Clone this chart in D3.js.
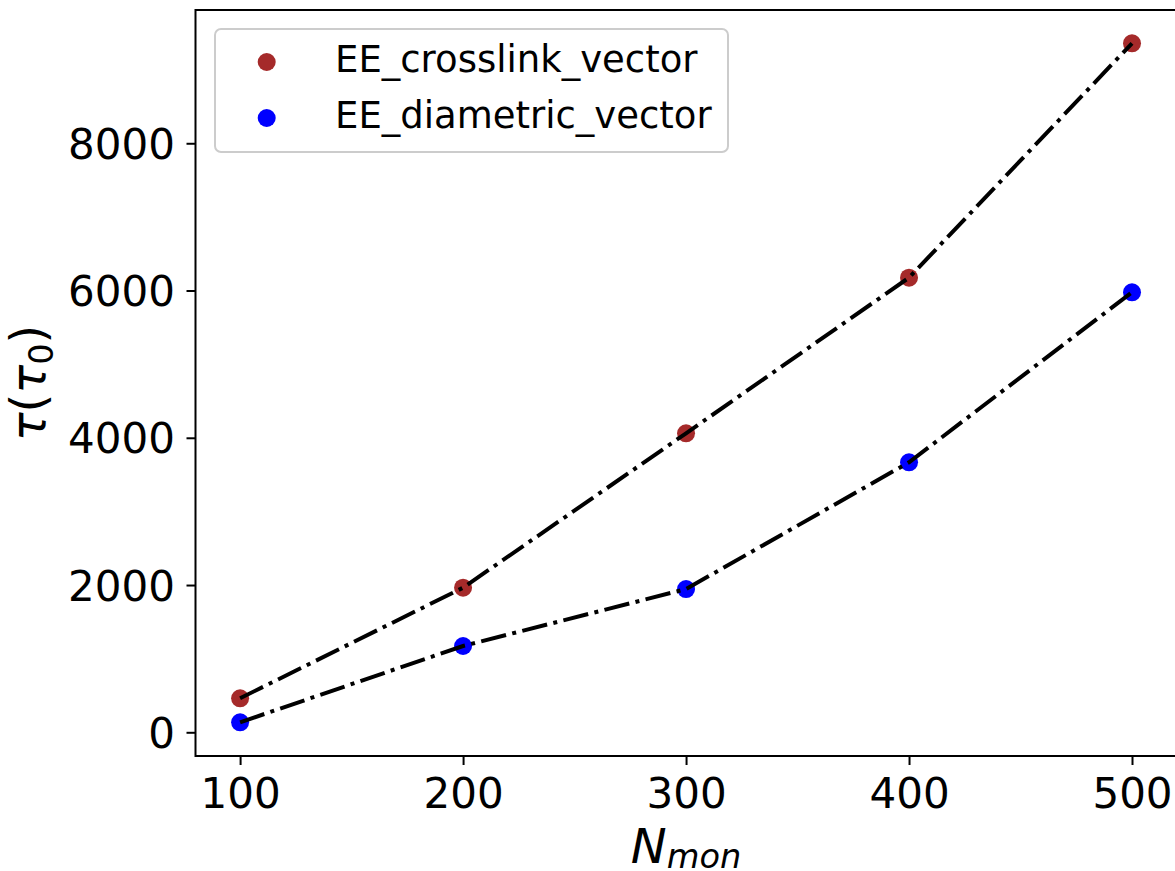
<!DOCTYPE html>
<html>
<head>
<meta charset="utf-8">
<script src="https://cdn.jsdelivr.net/npm/d3@7"></script>
<style>
  html, body { margin: 0; padding: 0; background: #fff; }
  svg { display: block; }
  text { font-family: "DejaVu Sans", sans-serif; fill: #000; }
</style>
</head>
<body>
<svg id="chart" width="1175" height="871"></svg>
<script>
// ---- data ----
const nmon = [100, 200, 300, 400, 500];
const crosslink = [462, 1964, 4061, 6175, 9358];
const diametric = [136, 1172, 1946, 3667, 5976];
const seriesNames = ["EE_crosslink_vector", "EE_diametric_vector"];
const seriesColors = ["#a52a2a", "#0000ff"];
const xTicks = [100, 200, 300, 400, 500];
const yTicks = [0, 2000, 4000, 6000, 8000];

// ---- layout ----
const plotL = 195.5, plotR = 1176.6, plotT = 10, plotB = 756;

const svg = d3.select("#chart");

const x = d3.scaleLinear().domain([80, 520]).range([plotL, plotR]);
const y = d3.scaleLinear().domain([-322, 9810]).range([plotB, plotT]);

// axes
const xAxis = d3.axisBottom(x).tickValues(xTicks).tickSize(9).tickFormat(d3.format("d"));
const yAxis = d3.axisLeft(y).tickValues(yTicks).tickSize(9).tickFormat(d3.format("d"));

const gx = svg.append("g").attr("transform", `translate(0,${plotB})`).call(xAxis);
gx.select(".domain").remove();
gx.selectAll(".tick line").attr("stroke", "#000").attr("stroke-width", 2);
gx.selectAll(".tick text").attr("y", 52).attr("dy", 0)
  .style("font-family", "DejaVu Sans").style("font-size", "42px").attr("fill", "#000");

const gy = svg.append("g").attr("transform", `translate(${plotL},0)`).call(yAxis);
gy.select(".domain").remove();
gy.selectAll(".tick line").attr("stroke", "#000").attr("stroke-width", 2);
gy.selectAll(".tick text").attr("x", -20.5).attr("dy", "0.36em")
  .style("font-family", "DejaVu Sans").style("font-size", "42px").attr("fill", "#000");

// scatter points
const data = [crosslink, diametric];
data.forEach((vals, i) => {
  svg.append("g").selectAll("circle")
    .data(nmon.map((n, j) => [n, vals[j]]))
    .join("circle")
    .attr("cx", d => x(d[0]))
    .attr("cy", d => y(d[1]))
    .attr("r", 9)
    .attr("fill", seriesColors[i]);
});

// dash-dot lines on top
const line = d3.line().x(d => x(d[0])).y(d => y(d[1]));
data.forEach((vals) => {
  svg.append("path")
    .datum(nmon.map((n, j) => [n, vals[j]]))
    .attr("d", line)
    .attr("fill", "none")
    .attr("stroke", "#000")
    .attr("stroke-width", 4)
    .attr("stroke-dasharray", "25.6,6.4,4,6.4");
});

// spines
svg.append("rect")
  .attr("x", plotL).attr("y", plotT)
  .attr("width", plotR - plotL).attr("height", plotB - plotT)
  .attr("fill", "none").attr("stroke", "#000").attr("stroke-width", 2);

// legend
const lg = svg.append("g");
lg.append("rect")
  .attr("x", 215).attr("y", 29).attr("width", 513).attr("height", 123)
  .attr("rx", 6).attr("ry", 6)
  .attr("fill", "#fff").attr("fill-opacity", 0.8)
  .attr("stroke", "#cccccc").attr("stroke-width", 2);
seriesNames.forEach((name, i) => {
  const cy = 62 + i * 56;
  lg.append("circle").attr("cx", 266.7).attr("cy", cy).attr("r", 9).attr("fill", seriesColors[i]);
  lg.append("text").attr("x", 335).attr("y", cy + 10)
    .style("font-size", "37px").text(name);
});

// x label: N_mon
const xl = svg.append("text")
  .attr("x", (plotL + plotR) / 2).attr("y", 863)
  .attr("text-anchor", "middle")
  .style("font-size", "48px").style("font-style", "italic");
xl.append("tspan").text("N");
xl.append("tspan").attr("dy", 5).style("font-size", "33.6px").text("mon");

// y label: tau(tau_0)
const yl = svg.append("text")
  .attr("transform", `translate(45,${(plotT + plotB) / 2}) rotate(-90)`)
  .attr("text-anchor", "middle")
  .style("font-size", "48px");
yl.append("tspan").style("font-style", "italic").text("τ");
yl.append("tspan").text("(");
yl.append("tspan").style("font-style", "italic").text("τ");
yl.append("tspan").attr("dy", 8).style("font-size", "33.6px").text("0");
yl.append("tspan").attr("dy", -8).text(")");
</script>
</body>
</html>
